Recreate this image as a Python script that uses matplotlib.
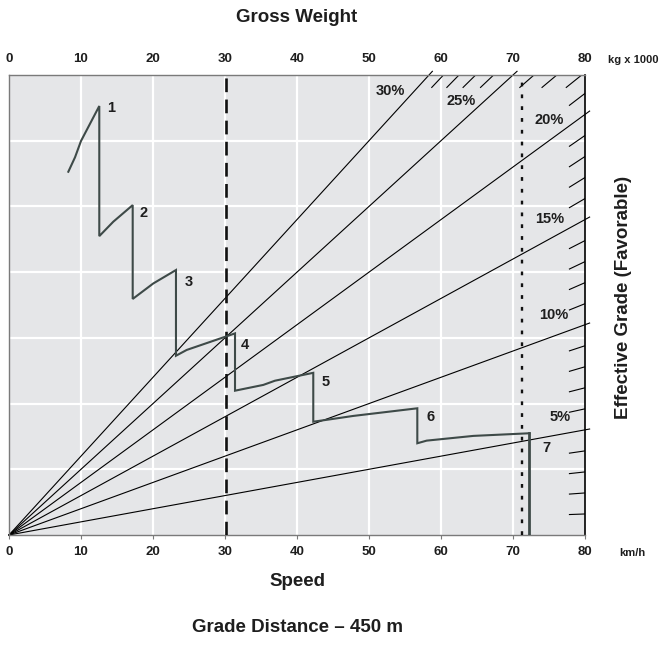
import numpy as np
import matplotlib
matplotlib.use('Agg')
import matplotlib.pyplot as plt

# x axis: speed (km/h) at the bottom, gross weight (kg x 1000) at the top, same scale
# y axis: grade(%) x weight(t), so a grade line is y = g * W
speed_ticks = [0, 10, 20, 30, 40, 50, 60, 70, 80]
grades_main = [5, 10, 15, 20, 25, 30]
grade_labels = ['5%', '10%', '15%', '20%', '25%', '30%']
grade_label_x = [76.5, 75.6, 75.1, 75.0, 62.75, 53.0]
grade_label_y = [449, 837, 1202, 1579, 1652, 1688]
grades_minor = [g for g in range(1, 30) if g % 5 != 0]

# retarder curve, gears 1-7 (speed, effort)
curve_speed = [8.24, 9.17, 10.0, 12.54, 12.54, 14.49, 17.18, 17.18, 20.04, 23.19,
               23.19, 24.68, 31.39, 31.39, 35.32, 36.94, 42.26, 42.26, 44.58, 47.82,
               56.71, 56.71, 58.01, 64.49, 72.26]
curve_effort = [1382, 1437, 1499, 1632, 1137, 1192, 1255, 898, 957, 1008,
                682, 704, 767, 549, 571, 587, 617, 431, 440, 453,
                482, 349, 359, 377, 387]
last_drop_speed = 72.26
gear_names = ['1', '2', '3', '4', '5', '6', '7']
gear_x = [14.24, 18.75, 25.0, 32.7, 44.0, 58.5, 74.6]
gear_y = [1624, 1226, 964, 723, 583, 450, 330]

empty_weight = 30.2
loaded_weight = 71.2

xmax = 80
ymax = 1750

reg = ['Liberation Sans', 'DejaVu Sans']
ink = '#1e1e1e'

W, H = 662, 648
fig = plt.figure(figsize=(W / 100, H / 100), dpi=100)
ax = fig.add_axes([9 / W, 1 - 535 / H, 576 / W, 460 / H])
ax.set_facecolor('#e5e6e8')
ax.set_xlim(0, xmax)
ax.set_ylim(0, ymax)

# white grid
for v in speed_ticks[1:-1]:
    ax.axvline(v, color='white', lw=1.6, zorder=1)
for v in range(250, ymax, 250):
    ax.axhline(v, color='white', lw=1.6, zorder=1)

def edge_point(g):
    if g * xmax <= ymax:
        return xmax, g * xmax
    return ymax / g, ymax

# grade lines from the origin
for g in grades_main:
    ex, ey = edge_point(g)
    ax.plot([0, ex * 1.008], [0, ey * 1.008], color='black', lw=0.8, zorder=2, clip_on=False)
# short 1% ticks at the frame
for g in grades_minor:
    ex, ey = edge_point(g)
    ax.plot([ex * 0.973, ex], [ey * 0.973, ey], color='black', lw=0.8, zorder=2)

for lab, x, y in zip(grade_labels, grade_label_x, grade_label_y):
    ax.text(x, y, lab, ha='center', va='center', fontsize=10.5, fontweight='bold',
            family=reg, color=ink, zorder=5)

# weight lines
ax.axvline(empty_weight, color='#111111', lw=1.9, linestyle=(0, (5.2, 2.8)), zorder=3)
ax.axvline(loaded_weight, color='#111111', lw=1.7, linestyle=(0, (1.6, 3.4)), zorder=3)

# curve
ax.plot(curve_speed, curve_effort, color='#3e4a48', lw=1.5, zorder=4, solid_joinstyle='miter')
ax.plot([last_drop_speed, last_drop_speed], [curve_effort[-1], 0], color='#3e4a48', lw=2.0, zorder=4)
for lab, x, y in zip(gear_names, gear_x, gear_y):
    ax.text(x, y, lab, ha='center', va='center', fontsize=10.5, fontweight='bold',
            family=reg, color=ink, zorder=5)

# frame
for s in ['left', 'top', 'bottom']:
    ax.spines[s].set_color('#7a7a7a')
    ax.spines[s].set_linewidth(1.0)
ax.spines['right'].set_color('black')
ax.spines['right'].set_linewidth(1.2)

ax.set_yticks([])
ax.set_xticks(speed_ticks)
ax.set_xticklabels([str(t) for t in speed_ticks])
ax.tick_params(axis='x', length=3, width=0.8, color='#7a7a7a', pad=5, labelsize=9.5)
for t in ax.get_xticklabels():
    t.set_fontweight('bold')
    t.set_family(reg)
    t.set_color(ink)

top = ax.secondary_xaxis('top')
top.set_xticks(speed_ticks)
top.set_xticklabels([str(t) for t in speed_ticks])
top.tick_params(length=0, pad=7, labelsize=9.5)
top.spines['top'].set_visible(False)
for t in top.get_xticklabels():
    t.set_fontweight('bold')
    t.set_family(reg)
    t.set_color(ink)

# unit and axis titles
fig.text(633 / W, 1 - 60 / H, 'kg x 1000', ha='center', va='center', fontsize=8,
         fontweight='bold', family=reg, color=ink)
fig.text(632 / W, 1 - 553 / H, 'km/h', ha='center', va='center', fontsize=8,
         fontweight='bold', family=reg, color=ink)
fig.text(297 / W, 1 - 17 / H, 'Gross Weight', ha='center', va='center', fontsize=13.5,
         fontweight='bold', family=reg, color=ink)
fig.text(297 / W, 1 - 582 / H, 'Speed', ha='center', va='center', fontsize=13.5,
         fontweight='bold', family=reg, color=ink)
fig.text(297 / W, 1 - 628 / H, 'Grade Distance \u2013 450 m', ha='center', va='center',
         fontsize=13.5, fontweight='bold', family=reg, color=ink)
fig.text(624 / W, 1 - 297 / H, 'Effective Grade (Favorable)', ha='center', va='center',
         rotation=90, fontsize=13.5, fontweight='bold', family=reg, color=ink)

fig.savefig('out.png', dpi=100)
